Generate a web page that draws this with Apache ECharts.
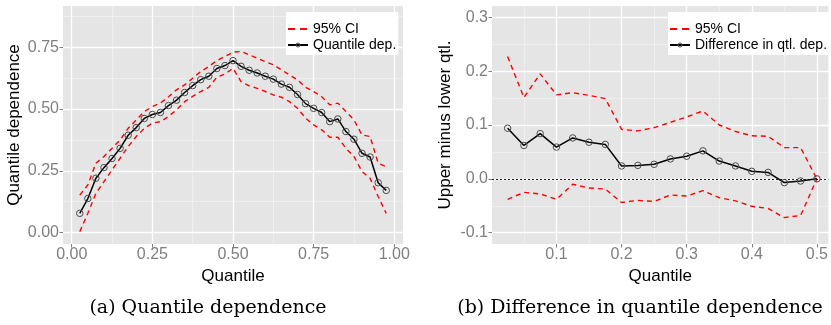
<!DOCTYPE html>
<html><head><meta charset="utf-8">
<script src="https://cdn.jsdelivr.net/npm/echarts@6/dist/echarts.min.js"></script>
<style>html,body{margin:0;padding:0;background:#fff}#c{width:831px;height:325px}</style>
</head><body><div id="c"></div><script>
// ---- Panel (a): quantile dependence ----
const quantileA = [0.025,0.05,0.075,0.1,0.125,0.15,0.175,0.2,0.225,0.25,0.275,0.3,0.325,0.35,0.375,0.4,0.425,0.45,0.475,0.5,0.525,0.55,0.575,0.6,0.625,0.65,0.675,0.7,0.725,0.75,0.775,0.8,0.825,0.85,0.875,0.9,0.925,0.95,0.975];
const depA = [0.078,0.138,0.220,0.263,0.300,0.341,0.394,0.425,0.462,0.478,0.486,0.514,0.536,0.567,0.595,0.619,0.633,0.664,0.676,0.696,0.673,0.657,0.646,0.633,0.621,0.601,0.588,0.559,0.522,0.503,0.486,0.449,0.460,0.409,0.378,0.321,0.306,0.202,0.171];
const upperA = [0.152,0.193,0.281,0.308,0.341,0.375,0.422,0.456,0.490,0.510,0.524,0.550,0.578,0.598,0.625,0.652,0.672,0.696,0.713,0.730,0.733,0.719,0.706,0.692,0.679,0.659,0.638,0.618,0.588,0.571,0.550,0.517,0.524,0.490,0.456,0.395,0.389,0.281,0.267];
const lowerA = [0.004,0.078,0.159,0.206,0.254,0.301,0.348,0.389,0.422,0.443,0.449,0.470,0.497,0.530,0.551,0.571,0.588,0.629,0.642,0.665,0.611,0.594,0.584,0.571,0.557,0.548,0.530,0.503,0.463,0.436,0.416,0.386,0.386,0.341,0.308,0.247,0.220,0.146,0.078];
const xTicksA = [0, 0.25, 0.5, 0.75, 1];
const xMinorA = [0.125, 0.375, 0.625, 0.875];
const yTicksA = [0, 0.25, 0.5, 0.75];
const yMinorA = [0.125, 0.375, 0.625, 0.875];

// ---- Panel (b): difference in quantile dependence ----
const quantileB = [0.025,0.05,0.075,0.1,0.125,0.15,0.175,0.2,0.225,0.25,0.275,0.3,0.325,0.35,0.375,0.4,0.425,0.45,0.475,0.5];
const diffB = [0.094,0.062,0.084,0.059,0.076,0.068,0.064,0.024,0.025,0.027,0.037,0.042,0.052,0.033,0.024,0.014,0.012,-0.007,-0.004,0.0];
const upperB = [0.227,0.151,0.195,0.156,0.160,0.155,0.149,0.092,0.089,0.095,0.105,0.115,0.126,0.100,0.088,0.080,0.079,0.058,0.058,0.0];
const lowerB = [-0.038,-0.025,-0.028,-0.038,-0.010,-0.017,-0.019,-0.044,-0.040,-0.042,-0.030,-0.032,-0.022,-0.035,-0.041,-0.051,-0.055,-0.072,-0.068,0.0];
const xTicksB = [0.1, 0.2, 0.3, 0.4, 0.5];
const xMinorB = [0.05, 0.15, 0.25, 0.35, 0.45];
const yTicksB = [-0.1, 0, 0.1, 0.2, 0.3];
const yMinorB = [-0.05, 0.05, 0.15, 0.25];

const FONT = '"Liberation Sans", Arial, sans-serif';
const RED = '#ff0000';

function majorAxis(grid, min, max, ticks, digits, isY, name, gap) {
  return {
    type: 'value', gridIndex: grid, min: min, max: max, z: 2,
    name: name, nameLocation: 'middle', nameGap: gap,
    nameTextStyle: {color: '#000', fontSize: 17, fontFamily: FONT},
    axisLine: {show: false, onZero: false},
    axisTick: {show: true, length: 3.5, customValues: ticks, lineStyle: {color: '#7f7f7f', width: 1}},
    axisLabel: {customValues: ticks, formatter: v => v.toFixed(digits), color: '#7f7f7f', fontSize: 16, fontFamily: FONT, margin: isY ? 4 : 3},
    splitLine: {show: true, lineStyle: {color: '#ffffff', width: 1.3}}
  };
}
function minorAxis(grid, min, max, vals) {
  return {
    type: 'value', gridIndex: grid, min: min, max: max, z: 1,
    axisLine: {show: false, onZero: false},
    axisTick: {show: false, customValues: vals},
    axisLabel: {show: false, customValues: vals},
    splitLine: {show: true, lineStyle: {color: '#f3f3f3', width: 0.7}}
  };
}
const pairs = (xs, ys) => xs.map((x, i) => [x, ys[i]]);

const ciStyle = {color: RED, type: [5, 4], width: 1.4};
function ciSeries(xi, yi, data) {
  return {type: 'line', name: '95% CI', xAxisIndex: xi, yAxisIndex: yi, data: data,
    symbol: 'none', lineStyle: ciStyle, itemStyle: {color: RED}, z: 3, silent: true, animation: false};
}
function estSeries(xi, yi, name, data, extra) {
  return Object.assign({type: 'line', name: name, xAxisIndex: xi, yAxisIndex: yi, data: data,
    symbol: 'circle', symbolSize: 6.5,
    itemStyle: {color: 'rgba(0,0,0,0)', borderColor: '#4a4a4a', borderWidth: 1},
    lineStyle: {color: '#000', width: 1.5}, z: 5, silent: true, animation: false}, extra || {});
}
function legendAt(left, estName) {
  return {left: left, top: 12, orient: 'vertical', backgroundColor: '#fff', padding: [10, 2, 3, 1],
    itemWidth: 20, itemHeight: 5, itemGap: 2, selectedMode: false, z: 10,
    data: [
      {name: '95% CI', itemStyle: {opacity: 0}, lineStyle: {color: RED, type: [7, 5], width: 2}},
      {name: estName, itemStyle: {color: 'rgba(0,0,0,0)', borderColor: '#4a4a4a', borderWidth: 1}}
    ],
    textStyle: {fontSize: 14, color: '#000', fontFamily: FONT}};
}

const chart = echarts.init(document.getElementById('c'), null, {renderer: 'canvas'});
chart.setOption({
  animation: false,
  backgroundColor: '#fff',
  grid: [
    {left: 63, top: 6, width: 340, height: 238, show: true, backgroundColor: '#e5e5e5', borderWidth: 0, z: 0},
    {left: 492, top: 6, width: 339, height: 238, show: true, backgroundColor: '#e5e5e5', borderWidth: 0, z: 0}
  ],
  xAxis: [
    majorAxis(0, -0.027, 1.027, xTicksA, 2, false, 'Quantile', 20),
    minorAxis(0, -0.027, 1.027, xMinorA),
    majorAxis(1, 0.001, 0.5177, xTicksB, 1, false, 'Quantile', 20),
    minorAxis(1, 0.001, 0.5177, xMinorB)
  ],
  yAxis: [
    majorAxis(0, -0.046, 0.917, yTicksA, 2, true, 'Quantile dependence', 40),
    minorAxis(0, -0.046, 0.917, yMinorA),
    majorAxis(1, -0.121, 0.321, yTicksB, 1, true, 'Upper minus lower qtl.', 38),
    minorAxis(1, -0.121, 0.321, yMinorB)
  ],
  legend: [
    legendAt(286, 'Quantile dep.'),
    legendAt(668, 'Difference in qtl. dep.')
  ],
  series: [
    ciSeries(0, 0, pairs(quantileA, upperA)),
    ciSeries(0, 0, pairs(quantileA, lowerA)),
    estSeries(0, 0, 'Quantile dep.', pairs(quantileA, depA)),
    ciSeries(2, 2, pairs(quantileB, upperB)),
    ciSeries(2, 2, pairs(quantileB, lowerB)),
    estSeries(2, 2, 'Difference in qtl. dep.', pairs(quantileB, diffB), {
      markLine: {silent: true, symbol: 'none', animation: false, label: {show: false},
        lineStyle: {color: '#222', type: [2, 2], width: 1.2}, data: [{yAxis: 0}]}
    })
  ],
  graphic: [
    {type: 'text', x: 208, y: 308, silent: true,
      style: {text: '(a) Quantile dependence', font: '19px "DejaVu Serif", serif', fill: '#000', align: 'center', verticalAlign: 'middle'}},
    {type: 'text', x: 640, y: 308, silent: true,
      style: {text: '(b) Difference in quantile dependence', font: '19px "DejaVu Serif", serif', fill: '#000', align: 'center', verticalAlign: 'middle'}}
  ]
});
</script></body></html>
